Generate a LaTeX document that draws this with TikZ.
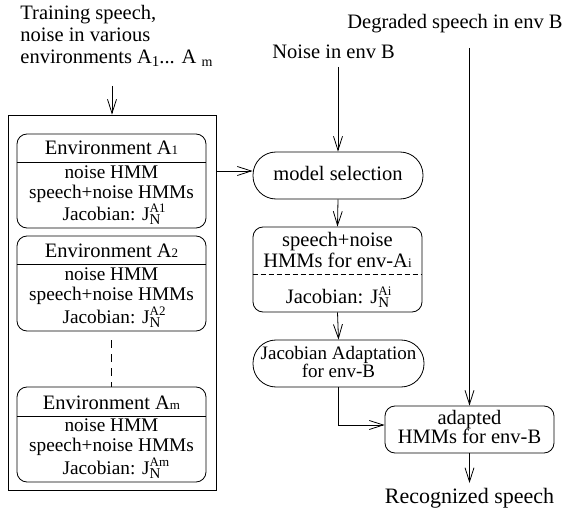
\documentclass[tikz,border=0pt]{standalone}
\usepackage{fontspec}
\setmainfont{Liberation Serif}
\usetikzlibrary{arrows.meta}
\newcommand{\smalltxt}[1]{{\fontsize{13}{13}\selectfont #1}}
\newcommand{\JacN}[1]{J\rlap{\raisebox{8pt}{\fontsize{13}{13}\selectfont #1}}\raisebox{-4pt}{\fontsize{15}{15}\selectfont N}}
\begin{document}
\begin{tikzpicture}[x=1pt,y=-1pt,line width=0.8pt,
  txt/.style={inner sep=0pt,anchor=base,font=\fontsize{20.5}{22}\selectfont},
  btxt/.style={txt,font=\fontsize{19.3}{21}\selectfont},
  txtw/.style={txt,anchor=base west},
  arr/.style={-{Straight Barb[length=14pt,width=9pt,line width=0.8pt]}},
  envbox/.style={draw,rounded corners=10pt,minimum width=189pt,minimum height=95pt,inner sep=0pt},
  roundbox/.style={draw,rounded corners=10pt,minimum width=169pt,inner sep=0pt},
  stadium/.style={draw,rounded corners=23pt,minimum height=47pt,inner sep=0pt}]
\useasboundingbox (0,0) rectangle (566,519);

% input texts
\node[txtw] (tr1) at (20,20) {Training speech,};
\node[txtw] (tr2) at (20,42) {noise in various};
\node[txtw] (tr3) at (20,64) {environments A\raisebox{-2pt}{\fontsize{15}{15}\selectfont 1}... A \raisebox{-2pt}{\fontsize{14}{14}\selectfont m}};
\node[txtw] (deg) at (347,29) {Degraded speech in env B};
\node[txtw] (nb) at (272,59) {Noise in env B};

% outer box
\node[draw,minimum width=208pt,minimum height=375pt,inner sep=0pt] (outer) at (112,302.5) {};

% environment boxes
\node[envbox,minimum height=94pt] (e1) at (111.5,181) {};
\draw (e1.west |- 0,162) -- (e1.east |- 0,162);
\node[txt] (e1h) at (111.5,155) {Environment A\smalltxt{1}};
\node[btxt] (e1a) at (111.5,178.5) {noise HMM};
\node[btxt] (e1b) at (111.5,198) {speech+noise HMMs};
\node[btxt] (e1c) at (111.5,220) {Jacobian:\hspace{0.35em}\JacN{A1}};

\node[envbox] (e2) at (111.5,283.5) {};
\draw (e2.west |- 0,264) -- (e2.east |- 0,264);
\node[txt] (e2h) at (111.5,257) {Environment A\smalltxt{2}};
\node[btxt] (e2a) at (111.5,280.5) {noise HMM};
\node[btxt] (e2b) at (111.5,300) {speech+noise HMMs};
\node[btxt] (e2c) at (111.5,323) {Jacobian:\hspace{0.35em}\JacN{A2}};

\node[envbox] (e3) at (111.5,434.5) {};
\draw (e3.west |- 0,416) -- (e3.east |- 0,416);
\node[txt] (e3h) at (111.5,409) {Environment A\smalltxt{m}};
\node[btxt] (e3a) at (111.5,431.5) {noise HMM};
\node[btxt] (e3b) at (111.5,451) {speech+noise HMMs};
\node[btxt] (e3c) at (111.5,474) {Jacobian:\hspace{0.35em}\JacN{Am}};

\draw[dash pattern=on 8pt off 6pt] ([yshift=-9pt]e2.south) -- (e3.north);

% model selection
\node[stadium,minimum width=170pt] (ms) at (338,175.5) {};
\node[txt] (mst) at (338,180) {model selection};

% speech+noise HMMs for env-Ai
\node[roundbox,minimum height=85pt] (sn) at (337.5,269.5) {};
\draw[dash pattern=on 5pt off 3pt] (sn.west |- 0,274) -- (sn.east |- 0,274);
\node[txt] (sna) at (337.5,247) {speech+noise};
\node[txt] (snb) at (337.5,267) {HMMs for env-A\smalltxt{i}};
\node[txt] (snc) at (337.5,303) {Jacobian:\hspace{0.35em}\JacN{Ai}};

% Jacobian adaptation
\node[stadium,minimum width=171pt] (ja) at (338.5,363.5) {};
\node[txt,font=\fontsize{19}{21}\selectfont] (jaa) at (338.5,359) {Jacobian Adaptation};
\node[txt,font=\fontsize{19}{21}\selectfont] (jab) at (338.5,377) {for env-B};

% adapted HMMs
\node[roundbox,minimum height=47pt] (ad) at (469.5,429.5) {};
\node[txt] (ada) at (469.5,424) {adapted};
\node[txt] (adb) at (469.5,443) {HMMs for env-B};

% output
\node[txt,font=\fontsize{22}{24}\selectfont] (rs) at (469.5,503) {Recognized speech};

% connectors
\coordinate (t0) at (112,86);
\coordinate (n0) at (338,67);
\coordinate (d0) at (469.5,48);
\coordinate (r0) at (469.5,483);
\coordinate (msin) at ([yshift=4.5pt]ms.west);
\coordinate (adin) at ([yshift=4.5pt]ad.west);
\draw[arr] (t0) -- (outer.north);
\draw[arr] (outer.east |- msin) -- (msin);
\draw[arr] (n0) -- (ms.north);
\draw[arr] (ms.south) -- (sn.north);
\draw[arr] (sn.south) -- (ja.north);
\draw[arr] (ja.south) |- (adin);
\draw[arr] (d0) -- (ad.north);
\draw[arr] (ad.south) -- (r0);
\end{tikzpicture}
\end{document}
